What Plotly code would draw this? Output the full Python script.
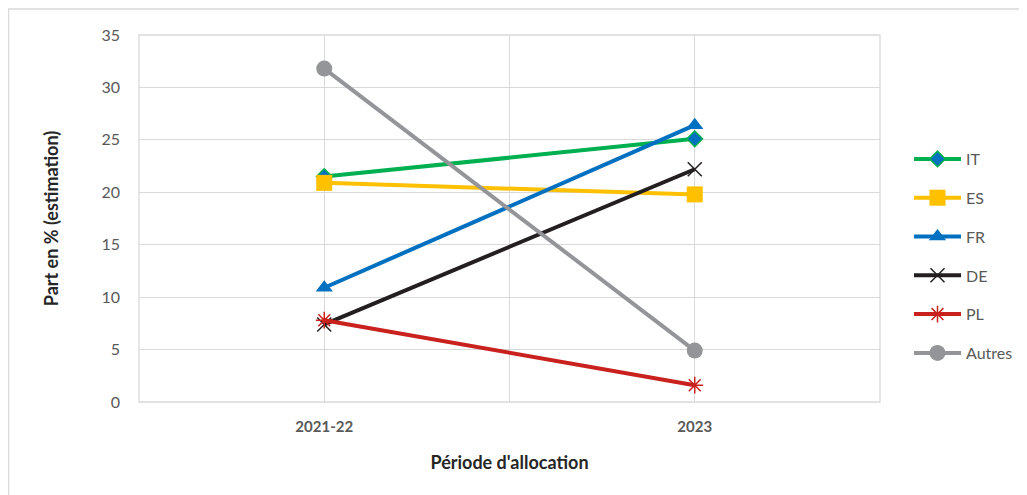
import plotly.graph_objects as go

categories = ["2021-22", "2023"]
series_names = ["IT", "ES", "FR", "DE", "PL", "Autres"]
it_vals = [21.5, 25.1]
es_vals = [20.9, 19.8]
fr_vals = [10.9, 26.4]
de_vals = [7.4, 22.2]
pl_vals = [7.8, 1.6]
autres_vals = [31.8, 4.9]
y_ticks = [0, 5, 10, 15, 20, 25, 30, 35]

values = [it_vals, es_vals, fr_vals, de_vals, pl_vals, autres_vals]
styles = [
    dict(color="#00B050", marker=dict(symbol="diamond", size=12, color="#0070C0", line=dict(color="#00B050", width=1.5))),
    dict(color="#FFC000", marker=dict(symbol="square", size=16, color="#FFC000", line=dict(color="#FFC000", width=0))),
    dict(color="#0070C0", marker=dict(symbol="triangle-up", size=15, color="#0070C0", line=dict(color="#0070C0", width=0))),
    dict(color="#231F20", marker=dict(symbol="x-thin-open", size=14, color="#231F20", line=dict(color="#231F20", width=1.5))),
    dict(color="#C9211E", marker=dict(symbol="asterisk-open", size=14, color="#C9211E", line=dict(color="#C9211E", width=1.5))),
    dict(color="#939598", marker=dict(symbol="circle", size=16, color="#939598", line=dict(color="#939598", width=0))),
]

xpos = list(range(len(categories)))
fig = go.Figure()
for name, vals, st in zip(series_names, values, styles):
    fig.add_trace(go.Scatter(
        x=xpos, y=vals, name=name, mode="lines+markers",
        line=dict(color=st["color"], width=4),
        marker=st["marker"], legendgroup=name,
    ))

# page body has an 8px margin, so figure coords = screen coords - 8
OFF = 8
W, H = 1019, 487
L, R, T, B = 139 - OFF, 880 - OFF, 35 - OFF, 402 - OFF
pw, ph = R - L, B - T

fig.update_layout(
    width=W, height=H,
    margin=dict(l=L, r=W - R, t=T, b=H - B, autoexpand=False),
    paper_bgcolor="white", plot_bgcolor="white",
    font=dict(family="Lato, Open Sans, sans-serif", color="#595959", size=16),
    showlegend=True,
    legend=dict(x=(909 - OFF - L) / pw, y=(B - (142 - OFF)) / ph, xanchor="left", yanchor="top",
                font=dict(size=16, color="#595959"), itemwidth=47,
                tracegroupgap=15, bgcolor="rgba(0,0,0,0)"),
    xaxis=dict(
        range=[-0.5, len(categories) - 0.5],
        tickvals=[-0.5, 0, 0.5, 1, 1.5],
        ticktext=["", categories[0], "", categories[1], ""],
        showgrid=True, gridcolor="#D9D9D9", gridwidth=1.3,
        zeroline=False, showline=False, ticks="",
        ticklabelstandoff=14,
        tickfont=dict(size=15, color="#595959", family="Lato, sans-serif", weight="bold"),
        title=dict(text="<b>Période d'allocation</b>", font=dict(size=18, color="#262626"), standoff=22),
    ),
    yaxis=dict(
        range=[0, 35], tickvals=y_ticks,
        showgrid=True, gridcolor="#D9D9D9", gridwidth=1.3,
        zeroline=False, showline=False, ticks="",
        ticklabelstandoff=18,
        tickfont=dict(size=16, color="#595959"),
        title=dict(text="<b>Part en % (estimation)</b>", font=dict(size=18, color="#262626"), standoff=38),
    ),
    shapes=[
        dict(type="rect", xref="paper", yref="paper",
             x0=(0.5 - L) / pw, x1=(1035 - L) / pw,
             y0=(B - 505) / ph, y1=(B - 1) / ph,
             line=dict(color="#D9D9D9", width=1.5), layer="below"),
        dict(type="rect", xref="paper", yref="paper", x0=0, x1=1, y0=0, y1=1,
             line=dict(color="#D9D9D9", width=1.3), layer="below"),
    ],
)

fig.write_html("out.html")
